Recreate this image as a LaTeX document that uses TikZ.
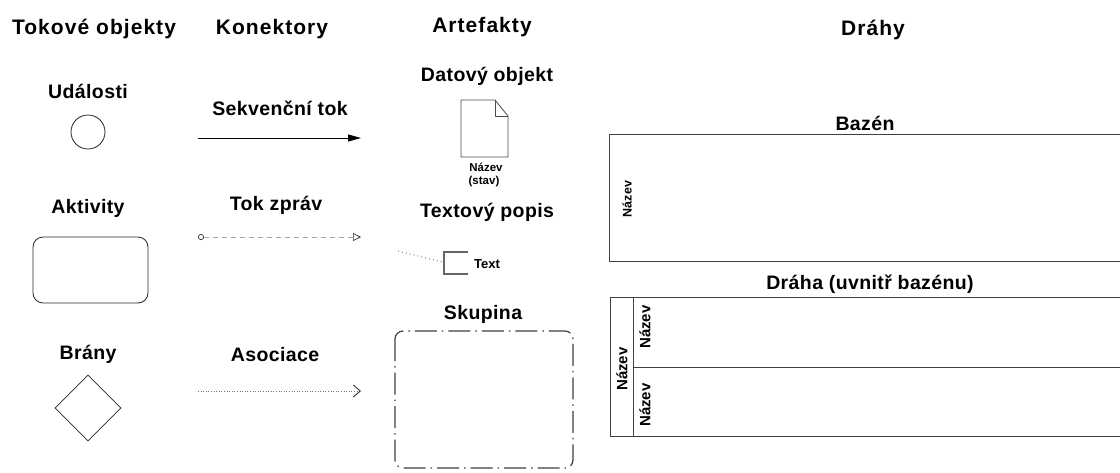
\documentclass[tikz,border=0pt]{standalone}
\usepackage{fontspec}
\setmainfont{Liberation Sans}
\usetikzlibrary{arrows.meta,shapes.geometric}
\begin{document}
\begin{tikzpicture}[x=1pt,y=-1pt,
  head/.style={font=\bfseries\fontsize{21}{24}\selectfont\addfontfeature{LetterSpace=5}},
  label/.style={font=\bfseries\fontsize{19.5}{22}\selectfont\addfontfeature{LetterSpace=2}},
  tiny/.style={font=\bfseries\fontsize{11.5}{13}\selectfont},
  vlab/.style={font=\bfseries\fontsize{15}{17}\selectfont,rotate=90},
  outline/.style={draw=black!85,line width=0.8pt},
  frame/.style={draw=black!75,line width=0.9pt}]
\useasboundingbox[fill=white] (0,0) rectangle (1120,472);

% column headings
\node[head] (hflow) at (94,29) {Tokové objekty};
\node[head] (hconn) at (272,29) {Konektory};
\node[head] (hart) at (482,27) {Artefakty};
\node[head] (hlanes) at (873,30) {Dráhy};

% flow objects
\node[label] (tevent) at (88,91) {Události};
\node[outline,circle,minimum size=34pt,inner sep=0pt] (event) at (88,132) {};
\node[label] (tact) at (88,208) {Aktivity};
\node[outline,rounded corners=10pt,minimum width=115pt,minimum height=66pt] (act) at (90.5,270) {};
\node[label] (tgate) at (88,354) {Brány};
\node[outline,diamond,minimum width=66pt,minimum height=66pt,inner sep=0pt] (gate) at (88,408) {};

% connectors
\node[label] (tseq) at (280,108) {Sekvenční tok};
\coordinate (s1) at (198,138); \coordinate (s2) at (361,138);
\draw[line width=0.8pt,-{Triangle[length=13pt,width=7pt]}] (s1) -- (s2);

\node[label] (tmsg) at (276,205) {Tok zpráv};
\coordinate (m1) at (198,237); \coordinate (m2) at (361,237);
\draw[black!35,line width=0.7pt,dash pattern=on 5pt off 4pt,
  {Circle[open,length=6pt,black!80]}-{Triangle[open,length=8pt,width=8pt,black!80]}] (m1) -- (m2);

\node[label] (tassoc) at (275,355) {Asociace};
\coordinate (a1) at (198,391); \coordinate (a2) at (361,391);
\draw[black!55,line width=0.8pt,dash pattern=on 1pt off 1.6pt,
  -{Straight Barb[length=7pt,width=12pt,black!80,line width=0.9pt]}] (a1) -- (a2);

% artifacts: data object
\node[label] (tdata) at (487,76) {Datový objekt};
\draw[outline,black!70,line join=round] (461,100) -- (495,100) -- (508,116) -- (508,157) -- (461,157) -- cycle;
\draw[outline,black!70,line join=round] (495,100) -- (495,116) -- (508,116);
\node[tiny] (dname) at (486,167) {Název};
\node[tiny] (dstate) at (484,182) {(stav)};

% text annotation
\node[label] (tannot) at (487,212) {Textový popis};
\coordinate (b1) at (468,252); \coordinate (b2) at (444,252);
\coordinate (b3) at (444,274); \coordinate (b4) at (468,274);
\draw[black!60,line width=1.1pt] (b1) -- (b2) -- (b3) -- (b4);
\coordinate (t0) at (398,251); \coordinate (t1) at (442,262);
\draw[black!55,line width=0.9pt,dash pattern=on 1pt off 3pt] (t0) -- (t1);
\node[font=\bfseries\fontsize{13}{15}\selectfont] (annot) at (487,264) {Text};

% group
\node[label] (tgroup) at (483,314) {Skupina};
\draw[black!75,line width=1.2pt,rounded corners=8pt,
  dash pattern=on 22pt off 5pt on 1.5pt off 5pt] (395,331) rectangle (573,468);

% lanes: pool
\node[label] (tpool) at (865,123) {Bazén};
\draw[frame] (1121,134) -- (609,134) -- (609,261) -- (1121,261);
\node[vlab,font=\bfseries\fontsize{12.5}{14}\selectfont] (pname) at (627,199) {Název};

% lanes: lanes inside a pool
\node[label] (tlane) at (870,284) {Dráha (uvnitř bazénu)};
\draw[frame] (1121,297) -- (610,297) -- (610,436) -- (1121,436);
\draw[frame] (633,297) -- (633,436);
\draw[frame] (633,367) -- (1121,367);
\node[vlab] (lpool) at (622,369) {Název};
\node[vlab] (lane1) at (645,327) {Název};
\node[vlab] (lane2) at (645,405) {Název};
\end{tikzpicture}
\end{document}
